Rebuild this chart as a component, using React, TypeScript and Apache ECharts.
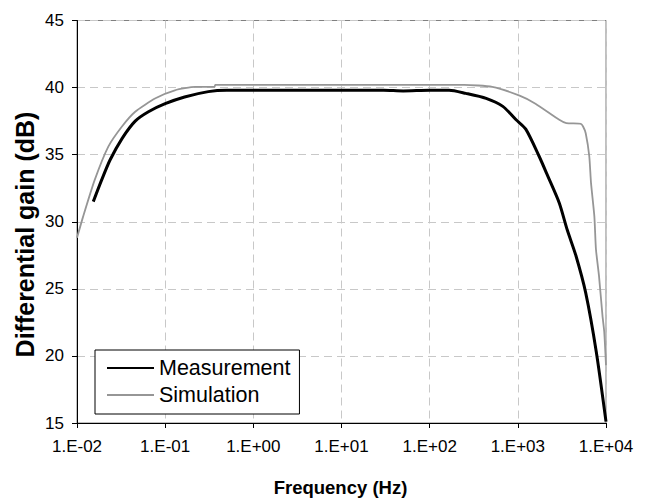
import React, { useEffect, useRef } from "react";
import * as echarts from "echarts";

// Frequency (Hz) and differential gain (dB)
const measurementFreq = [
  0.0153, 0.019, 0.0237, 0.0324, 0.0457, 0.0646, 0.1, 0.166, 0.309, 0.5, 1.0, 3.0, 10, 30, 50, 100, 166,
  257, 437, 676, 955, 1230, 1738, 2188, 2951, 3631, 4571, 5888, 7762, 10000,
];
const measurementGain = [
  31.5, 33.1, 34.6, 36.2, 37.5, 38.2, 38.8, 39.3, 39.7, 39.8, 39.8, 39.8, 39.8, 39.8, 39.75, 39.8, 39.8,
  39.57, 39.2, 38.6, 37.6, 36.9, 34.9, 33.4, 31.4, 29.4, 27.45, 24.7, 20.3, 15.1,
];

const simulationFreq = [
  0.01, 0.01175, 0.01585, 0.02265, 0.03236, 0.04571, 0.07762, 0.1288, 0.2188, 0.363, 0.37, 1.0, 10, 100,
  245.5, 512.9, 1047, 1585, 2951, 3548, 5188, 5495, 5888, 6457, 6761, 7379, 7691, 8318, 9120, 9550, 10000,
];
const simulationGain = [
  28.8, 30.4, 33.1, 35.6, 37.1, 38.2, 39.2, 39.8, 40.05, 40.05, 40.2, 40.2, 40.2, 40.2,
  40.2, 40.05, 39.4, 38.8, 37.6, 37.35, 37.3, 37.1, 36.6, 34.9, 32.9, 30.4, 27.95, 26.0, 23.0, 21.8, 19.3,
];

const seriesNames = ["Measurement", "Simulation"];
const xTitle = "Frequency (Hz)";
const yTitle = "Differential gain (dB)";

const FONT = "'Liberation Sans', Arial, sans-serif";

function fmtExp(v: number): string {
  const e = Math.round(Math.log10(v));
  return "1.E" + (e < 0 ? "-" : "+") + String(Math.abs(e)).padStart(2, "0");
}

export default function App() {
  const ref = useRef<HTMLDivElement>(null);
  useEffect(() => {
    if (!ref.current) return;
    const chart = echarts.init(ref.current, null, { renderer: "svg" });
    const meas = measurementFreq.map((f, i) => [f, measurementGain[i]]);
    const sim = simulationFreq.map((f, i) => [f, simulationGain[i]]);
    chart.setOption({
      animation: false,
      backgroundColor: "#ffffff",
      grid: {
        left: 77,
        right: 42,
        top: 20.5,
        bottom: 75,
        show: true,
        borderColor: "#808080",
        borderWidth: 1,
        backgroundColor: "transparent",
      },
      xAxis: {
        type: "log",
        logBase: 10,
        min: 0.01,
        max: 10000,
        axisLine: { show: true, lineStyle: { color: "#000", width: 1 } },
        axisTick: { show: true, length: 5, inside: false, lineStyle: { color: "#000" } },
        minorTick: { show: false },
        axisLabel: {
          formatter: (v: number) => fmtExp(v),
          fontSize: 17,
          fontFamily: FONT,
          color: "#000",
          margin: 15,
        },
        splitLine: { show: true, lineStyle: { color: "#c8c8c8", type: [8, 5], width: 1 } },
      },
      yAxis: {
        type: "value",
        min: 15,
        max: 45,
        interval: 5,
        axisLine: { show: true, lineStyle: { color: "#000", width: 1 } },
        axisTick: { show: true, length: 5, inside: false, lineStyle: { color: "#000" } },
        axisLabel: { fontSize: 17, fontFamily: FONT, color: "#000", margin: 13 },
        splitLine: { show: true, lineStyle: { color: "#c8c8c8", type: [8, 5], width: 1 } },
      },
      legend: {
        orient: "vertical",
        left: 95,
        top: 350,
        backgroundColor: "#ffffff",
        borderColor: "#000",
        borderWidth: 1,
        padding: [7, 9, 8, 11],
        itemWidth: 47,
        itemHeight: 14,
        itemGap: 5,
        itemStyle: { opacity: 0 },
        textStyle: { fontSize: 21.5, fontFamily: FONT, color: "#000" },
        data: seriesNames,
      },
      graphic: [
        {
          type: "text",
          x: 340.5,
          y: 487,
          style: {
            text: xTitle,
            font: `bold 18.5px ${FONT}`,
            fill: "#000",
            textAlign: "center",
            textVerticalAlign: "middle",
          },
        },
        {
          type: "text",
          x: 24.5,
          y: 234.5,
          rotation: Math.PI / 2,
          style: {
            text: yTitle,
            font: `bold 25px ${FONT}`,
            fill: "#000",
            textAlign: "center",
            textVerticalAlign: "middle",
          },
        },
      ],
      series: [
        {
          name: seriesNames[1],
          type: "line",
          data: sim,
          symbol: "none",
          showSymbol: false,
          smooth: 0.2,
          lineStyle: { color: "#969696", width: 1.8 },
          itemStyle: { color: "#969696" },
          z: 2,
        },
        {
          name: seriesNames[0],
          type: "line",
          data: meas,
          symbol: "none",
          showSymbol: false,
          smooth: 0.25,
          lineStyle: { color: "#000", width: 3 },
          itemStyle: { color: "#000" },
          z: 3,
        },
      ],
    });
    return () => chart.dispose();
  }, []);
  return (
    <div
      ref={ref}
      style={{ position: "fixed", left: 0, top: 0, width: 648, height: 498, background: "#fff" }}
    />
  );
}
